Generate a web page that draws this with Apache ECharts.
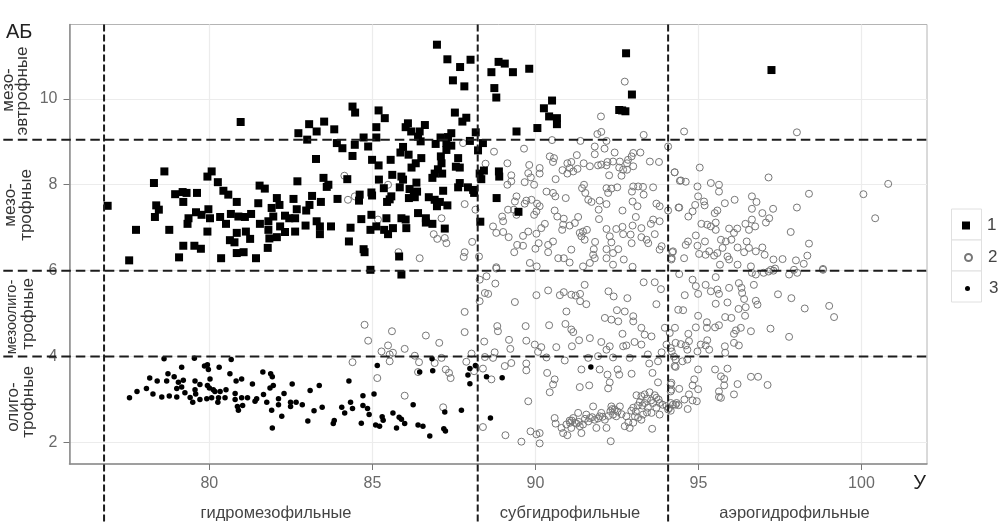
<!DOCTYPE html>
<html><head><meta charset="utf-8">
<style>html,body{margin:0;padding:0;background:#fff}#c{width:1006px;height:529px}</style>
<script src="https://cdn.jsdelivr.net/npm/echarts@6/dist/echarts.min.js"></script>
</head><body><div id="c"></div>
<script>
const xTicks=[80,85,90,95,100];
const yTicks=[2,4,6,8,10];
const vLines=[76.77,88.23,94.07];
const hLines=[9.05,6,4];
const zoneLabels=['гидромезофильные','субгидрофильные','аэрогидрофильные'];
const group1=[[76.88,7.51],[77.54,6.24],[77.75,6.95],[78.30,8.04],[78.62,8.31],[78.37,7.52],[78.45,7.42],[78.33,7.25],[78.77,6.95],[78.95,7.78],[79.18,7.83],[79.30,7.81],[79.20,7.60],[79.62,7.81],[79.07,6.31],[79.20,6.58],[79.54,6.58],[79.74,6.51],[79.36,7.22],[79.33,7.09],[79.59,7.36],[79.76,7.30],[79.97,7.43],[79.94,6.91],[79.94,8.19],[80.07,8.31],[80.02,7.22],[80.33,7.25],[80.26,8.06],[80.43,7.86],[80.58,7.77],[80.84,7.60],[80.36,6.29],[80.51,7.09],[80.66,7.32],[80.89,7.26],[81.09,7.25],[81.28,7.32],[80.84,6.88],[81.12,6.91],[80.63,6.71],[80.77,6.66],[81.25,6.74],[80.84,6.41],[81.05,6.43],[81.43,6.29],[80.96,9.46],[81.54,7.98],[81.70,7.91],[81.50,7.57],[81.55,7.09],[81.81,7.15],[81.81,6.95],[81.79,6.53],[81.84,6.75],[82.07,6.78],[82.32,6.90],[82.17,7.03],[81.96,7.26],[81.91,7.46],[82.07,7.69],[82.15,7.53],[82.32,7.28],[82.63,7.22],[82.45,7.22],[82.63,6.91],[82.95,7.05],[82.58,7.67],[82.70,8.08],[82.68,7.43],[82.97,7.40],[83.07,7.53],[83.15,7.74],[83.42,7.60],[83.27,8.60],[83.50,8.16],[83.65,8.00],[83.60,7.95],[83.29,7.15],[83.39,7.03],[83.39,6.85],[83.73,7.03],[83.93,7.67],[82.73,9.20],[83.06,9.41],[83.29,9.24],[83.52,9.47],[83.83,9.29],[83.0,9.05],[83.91,8.97],
[84.08,8.85],[84.46,8.93],[84.87,8.89],[84.39,8.67],[84.73,9.10],[85.12,9.10],[85.12,9.34],[84.39,9.82],[84.47,9.68],[85.19,9.73],[85.38,9.55],[86.09,9.43],[86.02,9.34],[86.19,9.24],[86.61,9.39],[86.45,9.24],[86.40,9.12],[86.48,9.01],[87.09,9.10],[86.94,8.95],[87.42,9.20],[87.32,9.11],[87.27,8.97],[87.42,8.91],[87.27,8.81],[85.94,8.88],[85.86,8.75],[86.11,8.70],[86.50,8.62],[86.33,8.50],[86.20,8.40],[87.10,8.66],[87.12,8.50],[87.01,8.36],[86.91,8.26],[86.84,8.16],[87.14,8.26],[87.63,8.62],[87.56,8.42],[87.68,8.40],[84.99,8.58],[85.19,8.45],[85.56,8.58],[84.23,8.13],[85.2,8.12],[85.35,7.92],[85.61,8.23],[85.89,8.19],[85.94,8.12],[85.84,7.94],[86.35,8.05],[86.14,7.90],[86.37,7.84],[86.30,7.71],[86.12,7.69],[86.27,7.80],[84.97,7.82],[84.99,7.75],[84.61,7.77],[84.59,7.63],[85.58,7.73],[85.53,7.66],[85.45,7.60],[86.73,7.71],[86.91,7.65],[87.07,7.60],[86.98,7.50],[87.17,7.86],[87.30,7.52],[87.68,8.04],[87.63,7.94],[87.93,7.94],[88.09,7.88],[88.12,7.81],[86.40,7.34],[86.64,7.22],[86.64,7.12],[86.84,7.09],[87.22,6.98],[84.97,7.30],[84.66,7.20],[84.33,7.0],[84.28,6.68],[84.73,6.50],[84.76,6.43],[85.43,7.22],[84.94,6.95],[85.12,7.03],[85.36,6.95],[85.48,6.85],[85.63,6.99],[85.89,7.22],[86.02,7.19],[86.04,6.99],[85.82,6.33],[84.94,6.02],[85.89,5.91],[87.53,9.68],[87.76,9.47],[87.88,9.56],[86.98,11.26],[87.30,10.92],[87.69,10.74],[88.01,10.91],[87.47,10.43],[87.82,10.29],[88.17,9.22],[87.99,9.02],[88.39,8.97],[88.24,8.80],[88.42,8.33],[88.29,8.26],[88.34,8.13],[88.88,8.31],[88.89,8.19],[88.81,7.69],[89.48,7.37],[88.31,7.14],[88.87,10.86],[89.06,10.82],[88.65,10.62],[89.31,10.62],[89.81,10.70],[88.74,10.25],[88.80,10.03],[90.51,9.96],[90.26,9.78],[90.42,9.59],[90.66,9.55],[90.66,9.41],[90.06,9.32],[89.42,9.24],[92.78,11.06],[92.96,10.10],[92.57,9.74],[92.66,9.73],[92.76,9.71],[97.24,10.67]];
const group2=[[84.14,8.21],[84.46,7.73],[84.25,7.65],[85.17,7.19],[85.48,8.0],[87.12,7.22],[87.83,7.55],[88.16,7.42],[86.88,6.85],[86.99,6.74],[87.22,6.76],[87.27,6.64],[88.06,6.67],[87.83,6.43],[87.80,6.32],[86.45,6.29],[88.27,6.33],[85.8,6.43],[88.80,6.08],[87.78,8.97],[88.73,8.77],[89.65,8.84],[88.47,8.49],[89.14,8.50],[90.51,9.04],[92.01,9.59],[92.74,10.40],[91.90,9.18],[92.02,9.23],[93.32,9.16],[94.07,8.89],[91.38,9.02],[92.18,9.02],[91.82,8.89],[91.82,8.71],[92.12,8.84],[92.43,8.75],[91.27,8.69],[90.44,8.66],[90.57,8.62],[90.54,8.53],[89.81,8.46],[90.13,8.39],[89.78,8.27],[90.13,8.26],[89.86,8.17],[89.26,8.22],[89.26,8.08],[89.14,8.0],[89.67,8.06],[89.96,8.0],[90.62,8.13],[90.83,8.34],[90.98,8.50],[91.10,8.53],[91.05,8.39],[90.98,8.26],[91.16,8.31],[91.29,8.37],[91.48,8.50],[91.67,8.43],[91.92,8.45],[92.02,8.47],[92.21,8.53],[92.18,8.45],[92.38,8.54],[92.59,8.54],[92.57,8.40],[92.69,8.35],[92.81,8.50],[92.81,8.35],[92.64,8.21],[92.26,8.22],[93.0,8.74],[92.95,8.66],[92.84,8.58],[93.0,8.43],[93.22,8.75],[93.51,8.54],[93.79,8.53],[94.27,8.29],[94.43,8.09],[91.49,8.0],[91.43,7.92],[91.53,7.81],[92.18,7.92],[92.33,7.91],[92.51,7.94],[93.0,7.96],[93.15,7.96],[93.30,7.95],[92.96,7.84],[93.32,7.77],[93.61,7.94],[92.23,7.81],[90.34,7.84],[90.54,7.81],[90.61,7.73],[90.93,7.69],[89.42,7.73],[89.37,7.61],[89.72,7.63],[89.88,7.65],[90.05,7.56],[90.13,7.50],[89.67,7.56],[89.16,7.42],[89.34,7.42],[89.42,7.30],[88.98,7.26],[89.01,7.15],[89.96,7.30],[90.03,7.38],[91.62,7.65],[91.72,7.60],[91.97,7.63],[92.18,7.55],[91.94,7.42],[92.67,7.40],[92.98,7.61],[93.13,7.50],[93.71,7.56],[93.81,7.50],[94.07,7.40],[94.41,7.47],[90.59,7.40],[90.67,7.26],[90.87,7.21],[90.85,7.07],[90.82,6.95],[91.05,7.05],[91.31,7.25],[91.21,7.11],[91.95,7.20],[93.08,7.25],[93.61,7.19],[93.81,7.15],[93.54,7.09],[93.25,6.99],[92.98,7.05],[92.67,7.02],[92.48,6.97],[92.18,6.97],[92.28,6.80],[92.69,6.85],[92.92,6.84],[93.25,6.78],[92.95,6.64],[93.46,6.64],[93.66,6.85],[93.87,6.57],[93.81,6.49],[93.41,6.72],[91.36,6.88],[91.46,6.91],[91.58,6.95],[91.41,6.80],[91.51,6.72],[91.83,6.67],[90.29,7.09],[90.18,6.99],[90.03,6.86],[89.78,6.91],[89.62,6.81],[88.70,7.03],[88.80,6.88],[89.01,6.90],[89.18,6.78],[90.54,6.68],[90.39,6.60],[90.10,6.64],[90.0,6.51],[90.39,6.43],[89.62,6.58],[89.44,6.60],[89.35,6.43],[91.10,6.49],[91.79,6.50],[91.77,6.37],[92.18,6.50],[92.33,6.66],[92.54,6.50],[92.18,6.29],[92.38,6.41],[92.71,6.26],[90.70,6.29],[90.87,6.29],[91.05,6.19],[91.82,6.29],[91.67,6.18],[91.46,6.10],[92.38,6.14],[92.98,6.09],[89.83,6.18],[90.04,6.10],[94.22,6.45],[94.17,6.26],
[94.56,9.24],[98.02,9.22],[95.04,8.40],[94.27,8.29],[94.46,8.10],[94.61,8.07],[94.97,7.96],[94.99,7.73],[95.38,8.04],[95.63,8.0],[95.63,7.84],[97.15,8.17],[98.39,7.79],[100.06,7.78],[100.82,8.02],[100.42,7.22],[98.02,7.47],[97.29,7.44],[96.64,7.73],[96.78,7.60],[96.64,7.44],[96.11,7.65],[95.81,7.57],[95.17,7.61],[95.19,7.52],[94.90,7.53],[94.39,7.47],[94.69,7.26],[94.82,7.38],[95.58,7.40],[95.50,7.34],[95.09,7.09],[95.27,7.07],[95.38,7.03],[95.53,7.12],[95.53,6.95],[95.94,6.98],[96.19,6.98],[96.09,6.88],[96.44,7.09],[96.64,7.19],[96.74,7.03],[96.96,7.34],[97.17,7.22],[97.07,7.12],[97.83,6.90],[96.55,6.95],[94.92,6.82],[94.68,6.68],[94.61,6.60],[95.20,6.68],[94.97,6.58],[95.69,6.72],[95.84,6.68],[96.01,6.72],[96.20,6.54],[96.48,6.68],[96.55,6.53],[98.39,6.63],[96.96,6.54],[96.76,6.45],[97.03,6.37],[96.40,6.43],[98.34,6.35],[97.58,6.27],[97.30,6.26],[97.99,6.24],[98.23,6.16],[98.82,6.04],[94.56,6.29],[94.20,6.43],[94.18,6.29],[95.02,6.39],[95.22,6.37],[95.48,6.35],[95.58,6.41],[95.66,6.14],[95.89,6.33],[95.94,6.26],[96.20,6.14],[96.61,6.10],[95.33,6.45],[95.74,6.53],[97.22,6.02],[97.3,6.0],[97.15,5.98],[97.35,6.05],[97.0,5.95],[96.76,5.91],[96.64,5.95],[97.78,5.91],[97.93,6.02],[98.03,5.95],[98.82,6.02],
[94.41,5.92],[95.53,5.85],[94.82,5.79],[94.92,5.64],[95.22,5.67],[95.38,5.52],[95.58,5.56],[95.63,5.46],[95.94,5.60],[96.24,5.71],[96.32,5.60],[96.34,5.48],[96.70,5.67],[94.99,5.46],[94.58,5.43],[97.44,5.45],[97.85,5.36],[98.26,5.12],[99.01,5.18],[99.16,4.92],[96.76,5.30],[96.81,5.21],[96.40,5.34],[96.45,5.15],[96.23,5.11],[96.43,4.95],[95.89,5.26],[95.53,5.23],[96.01,4.90],[95.82,4.92],[94.53,5.08],[94.99,4.95],[95.26,4.80],[95.26,4.67],[94.92,4.68],[95.51,4.68],[95.63,4.73],[96.30,4.67],[96.15,4.61],[96.61,4.59],[97.21,4.65],[97.78,4.46],[96.09,4.53],[94.69,4.53],[94.28,4.67],[94.30,4.32],[94.46,4.29],[94.61,4.26],[94.71,4.36],[94.66,4.16],[95.07,4.28],[95.27,4.38],[95.22,4.26],[95.33,4.16],[94.97,4.12],[95.81,4.24],[95.82,4.09],[96.09,4.32],[96.24,4.26],[94.15,4.20],[94.18,4.12],[94.25,4.0],[94.30,3.93],[94.51,3.89],[94.66,3.93],[94.30,3.76],[94.99,3.70],[95.51,3.70],[95.89,3.72],[95.69,3.54],[95.79,3.48],[95.79,3.33],[96.20,3.36],[96.61,3.53],[96.83,3.53],[97.12,3.34],[94.87,3.47],[94.82,3.33],[94.99,3.24],[94.71,3.12],[94.41,3.25],[94.15,3.35],[94.15,3.19],[95.63,3.19],[95.63,3.06],[95.69,3.04],[96.09,3.12],[94.82,2.98],[94.95,2.96],[94.57,3.0],[94.67,2.78],[94.30,2.88],[94.39,2.87],[94.15,2.92],[94.15,2.74],
[88.29,5.79],[88.50,5.87],[88.80,6.05],[88.77,5.70],[88.45,5.48],[88.55,5.46],[88.29,5.29],[89.37,5.27],[90.03,5.43],[90.39,5.54],[90.75,5.43],[90.87,5.50],[91.10,5.44],[91.23,5.42],[91.37,5.46],[91.37,5.29],[91.56,5.22],[91.51,5.67],[90.95,5.05],[92.24,5.52],[92.40,5.40],[92.82,5.36],[93.32,5.73],[93.66,5.73],[93.85,5.57],[93.71,5.22],[94.38,5.09],[87.83,5.04],[87.83,4.57],[84.76,4.74],[84.87,4.37],[85.60,4.59],[86.64,4.49],[87.05,4.32],[85.48,4.26],[85.99,4.18],[85.28,4.12],[85.53,4.05],[85.63,4.09],[84.39,3.87],[85.53,3.89],[86.30,4.02],[86.43,3.87],[87.12,3.97],[86.91,3.85],[86.40,3.64],[87.25,3.70],[87.35,3.62],[87.40,3.50],[85.15,3.50],[85.99,3.09],[87.17,2.82],[87.88,3.88],[88.04,4.07],[88.12,3.66],[88.39,3.72],[88.65,3.47],[88.39,2.36],[89.08,2.17],[89.57,2.02],[90.13,1.98],[89.85,2.26],[90.03,2.19],[90.13,2.22],[89.78,2.96],[90.44,3.17],[90.54,3.35],[90.59,3.47],[90.36,3.62],[89.72,3.84],[89.72,3.68],[88.83,4.71],[88.85,4.59],[89.70,4.71],[90.42,4.73],[90.92,4.76],[91.10,4.63],[91.16,4.57],[91.34,4.38],[91.67,4.43],[91.12,4.24],[90.64,4.22],[89.72,4.37],[89.98,4.28],[90.18,4.22],[90.08,4.11],[88.43,4.35],[89.19,4.39],[89.23,4.18],[88.75,4.10],[88.45,3.99],[88.70,3.97],[89.06,3.78],[89.26,3.85],[90.34,3.98],[90.90,3.91],[91.62,3.97],[91.92,4.01],[92.02,4.34],[92.28,4.24],[92.18,4.16],[92.38,3.98],[92.69,4.24],[92.79,4.26],[93.04,4.34],[92.89,3.97],[92.67,4.53],[92.50,5.08],[92.74,5.05],[92.13,4.90],[92.33,4.86],[92.54,4.82],[93.0,4.94],[93.0,4.82],[93.25,4.67],[93.35,4.51],[93.56,4.47],[93.25,4.28],[93.45,4.05],[93.87,4.10],[93.97,4.67],[94.12,4.55],[94.02,4.28],[91.41,3.70],[91.97,3.70],[92.21,3.58],[92.52,3.70],[92.57,3.58],[92.95,3.60],[92.28,3.40],[92.23,3.26],[91.36,3.29],[91.65,3.33],[93.49,3.84],[93.59,3.62],[93.76,3.40],[93.76,3.89],[94.27,3.78],[94.17,3.39],
[90.59,2.57],[90.62,2.44],[90.80,2.34],[90.85,2.22],[90.98,2.17],[90.95,2.42],[91.05,2.51],[91.16,2.57],[91.21,2.46],[91.10,2.34],[91.31,2.69],[91.36,2.38],[91.46,2.42],[91.41,2.22],[91.56,2.65],[91.67,2.57],[91.77,2.84],[91.82,2.53],[91.87,2.34],[91.97,2.61],[92.02,2.69],[92.13,2.53],[92.18,2.34],[92.33,2.84],[92.38,2.65],[92.43,2.77],[92.59,2.84],[92.48,2.61],[92.31,2.03],[92.74,2.38],[92.89,2.34],[92.79,2.61],[93.0,2.81],[93.05,2.61],[93.0,2.46],[93.25,2.53],[93.30,2.65],[93.10,3.10],[93.25,3.08],[93.35,3.12],[93.50,3.17],[93.35,2.92],[93.45,2.81],[93.61,2.92],[93.71,3.04],[93.81,2.92],[93.71,2.81],[93.56,2.69],[93.81,2.65],[93.58,2.32],[94.07,2.77],[94.22,2.88],[94.33,2.92],[94.17,3.23],
[91.06,2.46],[91.12,2.51],[91.26,2.44],[91.33,2.48],[91.52,2.55],[91.62,2.49],[91.74,2.59],[91.92,2.56],[92.06,2.6],[92.24,2.62],[92.3,2.73],[92.36,2.78],[92.52,2.72],[92.64,2.66],[92.94,2.74],[93.08,2.72],[93.14,2.86],[93.2,2.94],[93.28,2.86],[93.42,3.02],[93.55,2.98],[93.66,3.1],[93.78,3.0],[93.9,2.88],[94.02,2.85],[94.1,2.8],[92.85,2.47],[93.15,2.58],[93.42,2.7]];
const group3=[[77.55,3.04],[77.78,3.19],[78.07,3.26],[78.17,3.50],[78.27,3.13],[78.40,3.43],[78.54,3.06],[78.77,3.08],[79.0,3.06],[78.61,3.95],[78.69,3.43],[78.73,3.60],[78.92,3.53],[79.0,3.26],[79.05,3.40],[79.15,3.75],[79.20,3.45],[79.15,3.29],[79.25,3.16],[79.41,3.05],[79.49,2.94],[79.54,3.96],[79.56,3.43],[79.56,3.23],[79.58,3.13],[79.71,3.35],[79.71,3.0],[79.85,3.78],[79.94,3.81],[79.97,3.70],[80.02,3.48],[79.94,3.33],[80.0,3.27],[80.12,3.23],[79.92,3.02],[80.07,3.04],[80.17,3.19],[80.30,3.75],[80.33,3.19],[80.28,3.04],[80.26,2.94],[80.51,3.23],[80.48,3.04],[80.63,3.60],[80.67,3.93],[80.79,3.14],[80.82,3.43],[80.99,3.48],[80.79,3.0],[80.86,2.84],[80.89,2.75],[81.02,2.86],[80.99,3.04],[81.17,3.04],[81.32,3.36],[81.40,2.96],[81.45,3.02],[81.64,3.64],[81.88,3.60],[81.93,3.53],[81.86,3.27],[81.96,3.33],[81.66,3.12],[81.76,2.94],[81.91,2.75],[81.93,2.34],[82.12,3.02],[82.12,2.88],[82.22,2.61],[82.29,3.14],[82.54,3.36],[82.49,2.94],[82.66,2.94],[82.49,2.84],[82.85,2.88],[83.02,2.50],[83.09,3.21],[83.21,2.74],[83.37,3.33],[83.46,2.82],[83.83,2.51],[83.80,2.44],[84.06,2.82],[84.15,2.69],[84.28,3.43],[84.33,2.94],[84.39,2.79],[84.71,3.09],[84.71,2.86],[84.85,2.79],[84.90,2.65],[84.66,2.45],[85.05,3.13],[85.15,3.79],[85.10,2.41],[85.22,2.38],[85.30,2.60],[85.33,2.52],[85.63,2.69],[85.74,2.34],[85.82,2.59],[85.89,2.54],[85.99,2.44],[86.25,2.88],[86.40,2.41],[86.55,2.38],[86.76,2.15],[86.45,3.64],[86.85,3.67],[86.83,3.95],[87.22,2.71],[87.19,2.32],[87.24,2.27],[87.73,2.75],[87.93,3.57],[87.99,3.72],[88.16,3.79],[87.99,3.37],[88.50,3.53],[88.98,3.51],[88.62,2.57],[91.70,3.76]];

const ink='#000', grey='#6a6a6a';
const guideData=[...vLines.map(v=>[v,11.73,v,0.1,0]),...hLines.map(v=>[73.68,v,102.01,v,1])];
const series=[
 {name:'2',type:'scatter',data:group2,symbol:'circle',symbolSize:7,z:3,itemStyle:{color:'rgba(255,255,255,0)',borderColor:'#777',borderWidth:1,opacity:1}},
 {name:'1',type:'scatter',data:group1,symbol:'rect',symbolSize:8,z:4,itemStyle:{color:ink,opacity:1}},
 {name:'3',type:'scatter',data:group3,symbol:'circle',symbolSize:5.5,z:5,itemStyle:{color:ink,opacity:1}},
 {name:'guides',type:'custom',data:guideData,encode:{x:[0,2],y:[1,3]},clip:false,silent:true,z:9,
  renderItem:(p,api)=>{
    const a=api.coord([api.value(0),api.value(1)]),b=api.coord([api.value(2),api.value(3)]);
    return {type:'line',shape:{x1:a[0],y1:a[1],x2:b[0],y2:b[1]},
      style:{stroke:'#1c1c1c',lineWidth:2,fill:null,lineDash:api.value(4)?[9.5,5]:[7,3]}};
  }}
];
const legendItem=(name,icon,size,left,top,pad)=>({data:[{name,icon}],orient:'vertical',left,top,itemWidth:size,itemHeight:size,
  selectedMode:false,padding:0,textStyle:{color:'#444',fontSize:17,fontFamily:'Liberation Sans',padding:[0,0,0,pad]}});
const rotated=(text,x,y,size)=>({type:'text',x,y,rotation:Math.PI/2,z:20,
  style:{text,fill:'#333',font:size+'px "Liberation Sans"',textAlign:'center',textVerticalAlign:'middle'}});
const plain=(text,x,y,size,fill,align)=>({type:'text',x,y,z:20,
  style:{text,fill,font:size+'px "Liberation Sans"',textAlign:align||'center',textVerticalAlign:'middle'}});
const cell=(y,h)=>({type:'rect',shape:{x:951.5,y,width:30,height:h},z:0,style:{fill:'#fff',stroke:'#e0e0e0',lineWidth:1}});

const chart=echarts.init(document.getElementById('c'),null,{renderer:'canvas'});
chart.setOption({
 animation:false,backgroundColor:'#fff',
 grid:{left:69.5,right:79,top:24.5,bottom:65,show:true,borderColor:'#b4b4b4',borderWidth:1,backgroundColor:'#fff'},
 xAxis:{type:'value',min:75.71,max:102.01,
  axisLine:{show:true,onZero:false,lineStyle:{color:'#8c8c8c',width:1.5}},
  axisTick:{show:true,length:6,lineStyle:{color:'#777'},customValues:xTicks},
  axisLabel:{color:grey,fontSize:16,fontFamily:'Liberation Sans',margin:12,customValues:xTicks,formatter:v=>String(v)},
  splitLine:{show:true,lineStyle:{color:'#ececec',width:1.2}}},
 yAxis:{type:'value',min:1.5,max:11.73,
  axisLine:{show:true,onZero:false,lineStyle:{color:'#8c8c8c',width:1.5}},
  axisTick:{show:true,length:6,lineStyle:{color:'#777'},customValues:yTicks},
  axisLabel:{color:grey,fontSize:16,fontFamily:'Liberation Sans',margin:12,customValues:yTicks,formatter:v=>String(v)},
  splitLine:{show:true,lineStyle:{color:'#ececec',width:1.2}}},
 legend:[legendItem('1','rect',8,962,217,12),legendItem('2','circle',7,964,249,11),legendItem('3','circle',5,965,280,14)],
 graphic:[cell(209,31),cell(240,31),cell(271,31),
  plain('АБ',6,32,20,'#222','left'),plain('У',919.5,483,20,'#222'),
  plain(zoneLabels[0],276,513,16.5,'#444'),plain(zoneLabels[1],570,513,16.5,'#444'),plain(zoneLabels[2],794.5,513,16.5,'#444'),
  rotated('мезо-',8,90,17),rotated('эвтрофные',22,91,17),
  rotated('мезо-',10,205,17),rotated('трофные',26,205,17),
  rotated('мезоолиго-',12,317,14.5),rotated('трофные',28,314,17),
  rotated('олиго-',13,407,17),rotated('трофные',28,402,17)],
 series
});
</script></body></html>
